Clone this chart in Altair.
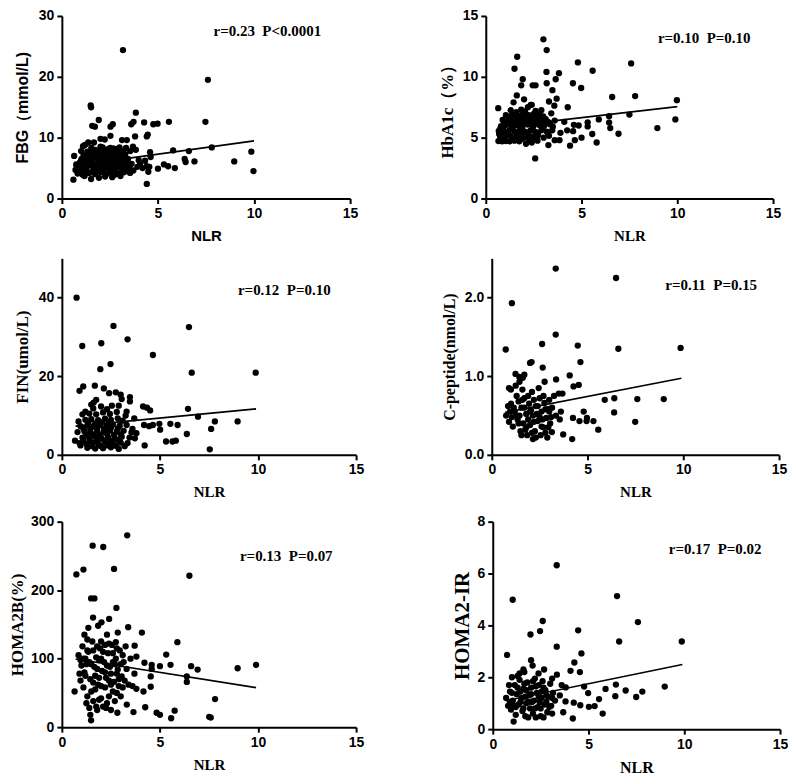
import altair as alt
import pandas as pd

X_TICKS = [0, 5, 10, 15]

# ---- FBG (mmol/L) vs NLR ----
FBG_POINTS = [
    (3.18, 24.4), (7.6, 19.5), (1.5, 15.3), (1.52, 15.0), (7.47, 12.6), (3.85, 14.1), (1.92, 12.9),
    (1.58, 11.95), (1.72, 11.8), (2.53, 11.8), (2.65, 12.2), (3.61, 12.2), (3.73, 12.6), (4.28, 12.5),
    (4.76, 12.2), (4.98, 12.3), (5.57, 12.6), (2.53, 10.3), (2.01, 9.8), (2.23, 9.7), (3.13, 9.6),
    (3.38, 9.6), (3.81, 10.2), (4.47, 10.5), (4.42, 10.2), (1.37, 9.2), (1.67, 9.2), (2.01, 8.5),
    (2.52, 8.3), (2.87, 8.1), (3.56, 7.8), (1.1, 8.6), (0.64, 7.0), (4.59, 7.6), (4.62, 6.8),
    (5.79, 7.9), (6.61, 7.8), (7.8, 8.4), (6.39, 6.5), (6.44, 6.0), (6.9, 6.1), (8.97, 6.1),
    (9.86, 7.7), (9.97, 4.5), (4.42, 2.4), (0.6, 3.1), (4.42, 5.3), (5.0, 4.9), (5.31, 5.6),
    (5.53, 5.3), (5.88, 5.0), (4.07, 5.7), (4.33, 6.2), (4.5, 4.4), (3.7, 8.5), (3.85, 8.0),
    (1.2, 8.8), (1.0, 7.8), (2.65, 8.2), (4.2, 5.0), (4.0, 6.3), (4.55, 5.2),
    (1.52, 3.2), (1.93, 3.4), (2.62, 3.5), (1.18, 3.7), (3.05, 3.7), (2.25, 3.6),
    (0.82, 4.1), (1.08, 3.9), (1.41, 4.2), (1.74, 4.0), (2.03, 4.3), (2.31, 4.0), (2.58, 4.2),
    (2.93, 4.1), (3.22, 4.3), (3.55, 4.2),
    (0.71, 4.7), (0.98, 4.6), (1.27, 4.8), (1.63, 4.6), (1.88, 4.9), (2.17, 4.7), (2.49, 4.6),
    (2.79, 4.8), (3.12, 4.7), (3.41, 4.9), (3.72, 4.6),
    (0.84, 5.3), (1.12, 5.1), (1.38, 5.4), (1.69, 5.2), (2.01, 5.3), (2.28, 5.1), (2.63, 5.4),
    (2.88, 5.2), (3.19, 5.3), (3.52, 5.1), (3.93, 5.2),
    (0.93, 5.9), (1.21, 5.7), (1.54, 6.0), (1.79, 5.8), (2.12, 5.9), (2.43, 5.7), (2.71, 6.0),
    (3.02, 5.8), (3.31, 5.9), (3.63, 5.7),
    (1.03, 6.5), (1.33, 6.3), (1.61, 6.6), (1.94, 6.4), (2.21, 6.5), (2.52, 6.3), (2.84, 6.6),
    (3.13, 6.4), (3.44, 6.5),
    (1.13, 7.1), (1.43, 6.9), (1.72, 7.2), (2.04, 7.0), (2.33, 7.1), (2.61, 6.9), (2.94, 7.2),
    (3.24, 7.0),
    (1.32, 7.7), (1.64, 7.5), (1.91, 7.8), (2.24, 7.6), (2.54, 7.7), (2.83, 7.5), (3.11, 7.8),
    (1.53, 8.3), (2.12, 8.4), (2.72, 8.2), (3.34, 8.3),
    (0.75, 5.6), (1.0, 6.2), (1.25, 4.4), (1.5, 5.6), (1.8, 4.4), (2.1, 6.2), (2.4, 5.4),
    (2.65, 4.5), (2.95, 5.6), (3.25, 4.9), (3.5, 5.6), (1.15, 6.8), (1.45, 7.3), (1.8, 6.8),
    (2.1, 7.4), (2.4, 6.8), (2.7, 7.3), (3.0, 6.8), (3.3, 7.3), (1.3, 5.9), (1.6, 5.4),
    (1.95, 5.6), (2.25, 6.2), (2.55, 5.0), (2.85, 6.2), (3.15, 6.1), (0.9, 4.4), (1.55, 4.3),
    (2.15, 4.4), (2.75, 3.9), (3.35, 4.5), (1.75, 8.0), (2.4, 8.1), (3.0, 8.4),
]
FBG_FIT_X = [0.6, 10.0]
FBG_FIT_Y = [5.36, 9.47]

# ---- HbA1c (%) vs NLR ----
HBA1C_POINTS = [
    (3.01, 13.08), (3.18, 12.2), (1.64, 11.65), (1.5, 10.66), (4.81, 11.18), (5.58, 10.5), (7.59, 11.1),
    (3.17, 10.4), (3.82, 10.3), (3.65, 9.8), (1.93, 9.8), (3.18, 9.47), (4.55, 9.47), (4.98, 9.08),
    (2.45, 9.3), (2.6, 9.3), (1.85, 9.3), (3.48, 8.9), (1.62, 8.47), (2.0, 8.15), (3.7, 8.2),
    (6.6, 8.34), (7.8, 8.42), (9.98, 8.08), (3.3, 7.97), (3.58, 7.63), (4.28, 7.5), (7.5, 6.9),
    (6.44, 6.24), (6.44, 6.76), (5.9, 6.5), (5.32, 6.26), (5.32, 5.92), (5.56, 5.3), (6.5, 5.79),
    (6.93, 5.32), (8.96, 5.79), (9.9, 6.5), (5.79, 4.6), (5.0, 5.0), (4.4, 4.34), (4.65, 4.79),
    (4.56, 5.53), (4.6, 6.05), (3.27, 4.39), (2.58, 3.29), (3.6, 4.79), (3.85, 4.79), (0.65, 7.42),
    (1.45, 7.9), (2.35, 7.7), (3.42, 7.0), (4.1, 6.3), (4.25, 5.6), (4.85, 6.0), (3.9, 5.4),
    (0.66, 4.72), (0.85, 4.7), (1.05, 4.72), (1.25, 4.7), (1.5, 4.75), (1.75, 4.7), (2.1, 4.5),
    (2.4, 4.6), (2.7, 4.75),
    (0.75, 5.1), (1.02, 5.0), (1.3, 5.15), (1.58, 5.05), (1.86, 5.2), (2.15, 5.0), (2.44, 5.1),
    (2.73, 5.2), (3.02, 5.0), (3.3, 5.15),
    (0.68, 5.55), (0.95, 5.45), (1.22, 5.6), (1.5, 5.5), (1.78, 5.62), (2.06, 5.48), (2.33, 5.58),
    (2.62, 5.45), (2.9, 5.6), (3.18, 5.5), (3.47, 5.6),
    (0.8, 5.95), (1.08, 6.05), (1.35, 5.92), (1.63, 6.02), (1.92, 5.95), (2.2, 6.08), (2.48, 5.95),
    (2.77, 6.05), (3.05, 5.98), (3.35, 6.1),
    (0.88, 6.45), (1.15, 6.38), (1.43, 6.5), (1.7, 6.4), (1.98, 6.52), (2.27, 6.42), (2.55, 6.5),
    (2.84, 6.4), (3.13, 6.52),
    (1.05, 6.85), (1.38, 6.9), (1.67, 6.8), (1.95, 6.95), (2.25, 6.85), (2.52, 6.98), (2.8, 6.88),
    (1.3, 7.25), (1.85, 7.3), (2.2, 7.5), (2.4, 7.7), (2.9, 7.25),
    (0.7, 5.3), (0.9, 5.75), (1.15, 5.3), (1.4, 5.8), (1.65, 5.3), (1.9, 5.75), (2.18, 5.3),
    (2.45, 5.8), (2.7, 5.3), (2.95, 5.8), (3.25, 5.35), (1.0, 6.25), (1.28, 6.2), (1.55, 6.25),
    (1.85, 6.2), (2.1, 6.3), (2.4, 6.25), (2.65, 6.25), (2.95, 6.2), (3.25, 6.3), (1.2, 6.7),
    (1.5, 6.65), (1.8, 6.7), (2.1, 6.7), (2.4, 6.7), (2.7, 6.65), (3.0, 6.75), (0.95, 4.9),
    (1.4, 4.9), (1.9, 4.9), (2.3, 4.85), (2.6, 4.95), (3.5, 5.9), (3.6, 6.4), (1.6, 7.1),
    (2.05, 7.15), (2.6, 7.2),
]
HBA1C_FIT_X = [0.6, 10.0]
HBA1C_FIT_Y = [5.85, 7.55]

# ---- FIN (umol/L) vs NLR ----
FIN_POINTS = [
    (0.75, 40.0), (1.04, 27.7), (2.63, 32.8), (3.35, 29.4), (2.01, 28.4), (1.96, 21.8), (2.48, 23.1),
    (4.64, 25.4), (6.48, 32.5), (6.62, 20.9), (9.88, 20.9), (0.9, 16.3), (1.09, 17.4), (1.68, 17.6),
    (2.14, 16.9), (2.41, 15.7), (2.75, 15.9), (3.0, 15.3), (3.05, 14.2), (3.47, 14.7), (3.47, 13.6),
    (4.14, 12.3), (4.34, 12.0), (4.5, 11.3), (6.43, 11.7), (6.94, 9.7), (7.8, 8.5), (8.96, 8.5),
    (7.61, 6.6), (6.37, 5.3), (7.54, 1.4), (5.31, 3.4), (5.64, 3.4), (5.81, 3.6), (5.53, 7.9),
    (5.9, 7.6), (5.01, 6.4), (4.97, 7.9), (4.64, 7.6), (4.19, 7.6), (4.22, 2.4), (3.72, 4.2),
    (3.69, 9.3), (0.67, 3.6), (0.95, 2.4), (4.45, 7.3), (3.8, 5.5), (3.6, 6.6), (2.9, 12.5),
    (2.55, 12.5), (1.75, 14.0), (1.62, 13.3), (1.5, 12.8), (1.2, 11.0), (1.05, 10.3), (0.85, 8.5),
    (3.3, 11.0), (3.25, 10.0),
    (1.3, 1.8), (1.7, 1.6), (2.1, 1.7), (2.5, 1.9), (2.9, 1.5), (3.2, 2.2),
    (0.9, 3.0), (1.25, 2.8), (1.55, 3.1), (1.85, 2.9), (2.2, 3.2), (2.6, 2.8), (3.0, 3.1), (3.35, 3.0),
    (1.05, 4.4), (1.4, 4.2), (1.7, 4.6), (2.0, 4.3), (2.35, 4.5), (2.7, 4.2), (3.05, 4.6), (3.45, 4.4),
    (0.8, 5.8), (1.15, 6.0), (1.45, 5.7), (1.8, 6.1), (2.12, 5.8), (2.45, 6.2), (2.8, 5.9), (3.15, 6.1),
    (3.55, 5.7),
    (0.95, 7.3), (1.3, 7.5), (1.62, 7.2), (1.95, 7.6), (2.28, 7.3), (2.6, 7.7), (2.95, 7.4), (3.3, 7.6),
    (1.2, 8.9), (1.5, 9.1), (1.85, 8.8), (2.2, 9.2), (2.5, 8.9), (2.85, 9.3), (3.1, 8.7),
    (1.4, 10.5), (1.75, 10.3), (2.1, 10.8), (2.45, 10.4), (2.8, 10.9),
    (1.1, 3.6), (1.45, 3.5), (1.8, 3.8), (2.15, 3.7), (2.5, 3.6), (2.85, 3.8), (1.25, 5.1),
    (1.6, 5.2), (1.95, 5.0), (2.3, 5.3), (2.65, 5.1), (3.0, 5.2), (1.1, 6.7), (1.45, 6.6),
    (1.8, 6.8), (2.15, 6.6), (2.5, 6.8), (2.85, 6.7), (1.35, 8.2), (1.7, 8.0), (2.05, 8.3),
    (2.4, 8.1), (1.55, 2.2), (1.95, 2.3), (2.35, 2.4), (2.75, 2.3), (1.6, 11.8), (2.0, 12.3),
    (2.3, 11.6),
]
FIN_FIT_X = [0.7, 9.9]
FIN_FIT_Y = [7.3, 11.7]

# ---- C-peptide (nmol/L) vs NLR ----
CPEP_POINTS = [
    (3.34, 2.37), (6.49, 2.25), (1.05, 1.93), (3.34, 1.53), (0.73, 1.34), (2.63, 1.41), (4.49, 1.39),
    (6.61, 1.35), (9.86, 1.36), (4.63, 1.18), (2.08, 1.18), (2.0, 1.17), (2.66, 1.11), (4.07, 1.01),
    (3.36, 0.96), (4.54, 0.89), (4.27, 0.87), (2.76, 0.93), (1.24, 1.03), (1.44, 0.99), (3.69, 0.78),
    (5.9, 0.70), (6.4, 0.72), (7.6, 0.71), (8.98, 0.71), (6.39, 0.54), (4.8, 0.55), (7.49, 0.42),
    (5.56, 0.32), (5.31, 0.43), (4.97, 0.47), (4.58, 0.43), (4.24, 0.47), (4.2, 0.2), (3.73, 0.26),
    (2.15, 0.2), (3.14, 0.29), (3.61, 0.55), (1.7, 1.02), (1.62, 0.98), (0.9, 0.85), (1.0, 0.83),
    (1.45, 0.93), (3.5, 0.78), (3.55, 0.45), (3.0, 0.55), (4.95, 0.43),
    (0.75, 0.5), (0.9, 0.42), (1.0, 0.65), (1.1, 0.36), (1.2, 0.55), (1.3, 0.75), (1.35, 0.45),
    (1.5, 0.3), (1.55, 0.6), (1.65, 0.4), (1.7, 0.72), (1.8, 0.52), (1.85, 0.25), (1.95, 0.65),
    (2.0, 0.38), (2.1, 0.8), (2.15, 0.5), (2.25, 0.3), (2.3, 0.62), (2.4, 0.43), (2.5, 0.72),
    (2.55, 0.25), (2.6, 0.55), (2.7, 0.35), (2.75, 0.66), (2.85, 0.47), (2.9, 0.22), (3.0, 0.7),
    (3.05, 0.4), (3.15, 0.6), (3.25, 0.75), (1.25, 0.88), (1.4, 0.68), (1.6, 0.83), (1.9, 0.45),
    (2.05, 0.57), (2.35, 0.52), (2.45, 0.85), (2.65, 0.45), (2.95, 0.58), (1.45, 0.5), (1.75, 0.32),
    (2.2, 0.7), (2.8, 0.28), (1.05, 0.48), (0.85, 0.62), (3.35, 0.5),
    (1.15, 0.6), (1.4, 0.4), (1.6, 0.7), (1.8, 0.35), (2.0, 0.55), (2.2, 0.42), (2.4, 0.62),
    (2.6, 0.36), (2.8, 0.58), (3.1, 0.48), (1.3, 0.5), (1.55, 0.25), (1.9, 0.75), (2.3, 0.22),
    (2.5, 0.48), (2.7, 0.75), (0.95, 0.55), (1.7, 0.6), (2.1, 0.28), (2.95, 0.35),
]
CPEP_FIT_X = [0.7, 9.9]
CPEP_FIT_Y = [0.54, 0.975]

# ---- HOMA2B (%) vs NLR ----
HOMA2B_POINTS = [
    (3.33, 280), (1.57, 265), (2.11, 263), (0.74, 223), (1.1, 230), (2.66, 231), (6.5, 221),
    (1.49, 188), (1.66, 188), (2.78, 174), (1.59, 160), (2.41, 158), (2.02, 153), (3.38, 146),
    (4.08, 138), (5.89, 124), (5.32, 106), (3.71, 119), (5.54, 91), (6.59, 89), (6.92, 84),
    (8.96, 86), (9.9, 91), (6.37, 74), (6.37, 66), (7.81, 41), (7.51, 15), (7.59, 14), (5.75, 24),
    (5.57, 13), (5.0, 18), (4.83, 21), (4.25, 29), (4.53, 59), (4.16, 52), (4.53, 74), (5.0, 89),
    (4.58, 91), (4.58, 85), (4.21, 94), (0.65, 52), (1.49, 10), (3.31, 33), (3.65, 22), (2.83, 21),
    (3.4, 62), (3.6, 60), (3.8, 56), (3.7, 78), (3.5, 100), (3.8, 103), (1.35, 145), (1.15, 135),
    (1.85, 148), (2.3, 135), (2.75, 124), (2.85, 138),
    (0.85, 105), (0.95, 98), (1.05, 118), (1.15, 80), (1.25, 92), (1.35, 110), (1.45, 70),
    (1.55, 125), (1.65, 88), (1.75, 102), (1.85, 62), (1.95, 115), (2.05, 82), (2.15, 95),
    (2.25, 72), (2.35, 108), (2.45, 88), (2.55, 120), (2.65, 66), (2.75, 100), (2.85, 84),
    (2.95, 112), (3.05, 74), (3.15, 95), (3.25, 118), (0.9, 78), (1.1, 58), (1.3, 45), (1.4, 28),
    (1.6, 38), (1.7, 55), (1.8, 25), (1.9, 72), (2.0, 42), (2.1, 30), (2.2, 58), (2.4, 45),
    (2.5, 25), (2.6, 52), (2.7, 38), (2.9, 60), (3.0, 45), (1.2, 100), (1.5, 92), (1.7, 75),
    (1.9, 98), (2.1, 110), (2.3, 90), (2.5, 78), (2.7, 92), (2.9, 70), (3.1, 105), (3.3, 85),
    (1.0, 90), (1.3, 128), (1.6, 112), (2.0, 125), (2.4, 122), (2.8, 115), (3.2, 68), (1.45, 18),
    (1.75, 30), (2.25, 28), (0.95, 68),
    (1.2, 75), (1.4, 95), (1.6, 65), (1.8, 85), (2.0, 100), (2.2, 80), (2.4, 68), (2.6, 95),
    (2.8, 78), (3.0, 92), (1.3, 112), (1.8, 118), (2.2, 120), (2.6, 108), (1.1, 100), (1.5, 52),
    (2.0, 60), (2.5, 62), (2.8, 50), (1.25, 35), (1.9, 40), (2.3, 35), (3.1, 58),
]
HOMA2B_FIT_X = [0.7, 9.9]
HOMA2B_FIT_Y = [99.4, 57.7]

# ---- HOMA2-IR vs NLR ----
HOMA2IR_POINTS = [
    (3.34, 6.32), (6.49, 5.13), (1.04, 4.99), (2.61, 4.17), (7.58, 4.13), (2.47, 3.78), (4.46, 3.81),
    (1.97, 3.65), (6.6, 3.38), (9.87, 3.38), (3.34, 3.18), (0.75, 2.86), (4.63, 2.92), (4.26, 2.57),
    (4.06, 2.25), (4.55, 2.2), (2.0, 2.66), (2.08, 2.45), (2.68, 2.3), (2.39, 2.15), (4.77, 1.64),
    (4.98, 1.39), (5.89, 1.55), (6.43, 1.72), (6.4, 1.27), (6.94, 1.49), (7.81, 1.45), (7.49, 1.24),
    (8.98, 1.64), (5.55, 1.16), (5.32, 0.89), (5.02, 0.86), (4.57, 0.92), (4.23, 1.02), (5.74, 0.6),
    (4.18, 0.41), (3.68, 0.65), (3.8, 1.07), (1.09, 0.29), (3.81, 1.61), (3.35, 2.1), (3.1, 1.95),
    (3.5, 1.3), (3.6, 1.7), (1.6, 2.3), (1.4, 2.15),
    (0.7, 1.2), (0.8, 0.9), (0.9, 1.45), (0.95, 0.75), (1.05, 1.1), (1.15, 1.7), (1.2, 0.55),
    (1.25, 1.35), (1.35, 0.95), (1.4, 1.9), (1.5, 1.2), (1.55, 0.7), (1.6, 1.55), (1.7, 0.5),
    (1.75, 1.0), (1.8, 1.8), (1.9, 1.3), (1.95, 0.8), (2.0, 1.6), (2.1, 0.6), (2.15, 1.1),
    (2.2, 1.95), (2.3, 1.4), (2.35, 0.85), (2.4, 1.7), (2.5, 0.5), (2.55, 1.2), (2.6, 1.85),
    (2.7, 0.95), (2.75, 1.5), (2.85, 0.65), (2.9, 1.25), (3.0, 1.75), (3.05, 0.9), (3.15, 1.4),
    (3.25, 1.1), (1.0, 2.0), (1.3, 2.05), (1.65, 2.2), (1.85, 0.45), (2.25, 0.45), (2.65, 0.45),
    (3.1, 0.6), (0.85, 1.7), (1.1, 0.9), (1.45, 1.45), (2.05, 1.05), (2.45, 1.05), (2.8, 1.05),
    (1.7, 1.25),
    (1.0, 1.4), (1.2, 0.85), (1.3, 1.6), (1.45, 1.05), (1.6, 0.8), (1.65, 1.75), (1.85, 1.05),
    (2.0, 1.35), (2.2, 0.8), (2.25, 1.65), (2.4, 1.25), (2.5, 0.8), (2.65, 1.6), (2.8, 1.3),
    (2.95, 0.85), (3.1, 1.2), (0.9, 1.05), (1.75, 1.5), (2.1, 1.85), (2.55, 1.45),
]
HOMA2IR_FIT_X = [0.7, 9.9]
HOMA2IR_FIT_Y = [1.1, 2.49]

SANS = "Liberation Sans"
SERIF = "Liberation Serif"

AXIS_STYLE = dict(
    grid=False, domainColor="black", domainWidth=2, tickColor="black", tickWidth=2,
    labelFont=SANS, labelFontWeight="bold", labelFontSize=14, labelColor="black",
    labelPadding=3, titleFontWeight="bold",
)


def panel(points, fit_x, fit_y, y_domain, y_ticks, y_title, title_font, y_title_size,
          label, w, h, ann_x, ann_y, y_title_pad, y_fmt=None, x_title_size=15):
    df = pd.DataFrame(points, columns=["NLR", "v"])
    fit = pd.DataFrame({"NLR": fit_x, "v": fit_y})
    yaxis_kw = dict(values=y_ticks, title=y_title, titleFont=title_font,
                    titleFontSize=y_title_size, titlePadding=y_title_pad, **AXIS_STYLE)
    if y_fmt:
        yaxis_kw["format"] = y_fmt
    x_enc = alt.X("NLR:Q", scale=alt.Scale(domain=[0, 15], nice=False),
                  axis=alt.Axis(values=X_TICKS, title="NLR", titleFont=title_font,
                                titleFontSize=x_title_size, titlePadding=8, labelFlush=False,
                                **AXIS_STYLE))
    y_enc = alt.Y("v:Q", scale=alt.Scale(domain=y_domain, nice=False), axis=alt.Axis(**yaxis_kw))
    pts = alt.Chart(df).mark_circle(size=40, color="black", opacity=1).encode(x=x_enc, y=y_enc)
    line = alt.Chart(fit).mark_line(color="black", strokeWidth=1.6).encode(x="NLR:Q", y="v:Q")
    txt = alt.Chart(pd.DataFrame({"t": [label]})).mark_text(
        font=SERIF, fontWeight="bold", fontSize=15, color="black", align="center", baseline="middle"
    ).encode(text="t:N", x=alt.value(ann_x), y=alt.value(ann_y))
    return alt.layer(pts, line, txt).properties(width=w, height=h)


p1 = panel(FBG_POINTS, FBG_FIT_X, FBG_FIT_Y, [0, 30], [0, 10, 20, 30], "FBG（mmol/L)", SANS, 16,
           "r=0.23\u00a0 P<0.0001", 289, 183, 206, 15, 8)
p2 = panel(HBA1C_POINTS, HBA1C_FIT_X, HBA1C_FIT_Y, [0, 15], [0, 5, 10, 15], "HbA1c（%）", SERIF, 17,
           "r=0.10\u00a0 P=0.10", 288, 183, 219, 22, 6)
p3 = panel(FIN_POINTS, FIN_FIT_X, FIN_FIT_Y, [0, 50], [0, 10, 20, 30, 40, 50], "FIN(umol/L)", SERIF, 17,
           "r=0.12\u00a0 P=0.10", 295, 197, 223, 32, 7)
p4 = panel(CPEP_POINTS, CPEP_FIT_X, CPEP_FIT_Y, [0, 2.5], [0, 0.5, 1.0, 1.5, 2.0, 2.5], "C-peptide(nmol/L)",
           SERIF, 16, "r=0.11\u00a0 P=0.15", 288, 197, 220, 27, 7, y_fmt=".1f")
p5 = panel(HOMA2B_POINTS, HOMA2B_FIT_X, HOMA2B_FIT_Y, [0, 300], [0, 100, 200, 300], "HOMA2B(%)", SERIF, 17,
           "r=0.13\u00a0 P=0.07", 295, 206, 225, 34, 4)
p6 = panel(HOMA2IR_POINTS, HOMA2IR_FIT_X, HOMA2IR_FIT_Y, [0, 8], [0, 2, 4, 6, 8], "HOMA2-IR", SERIF, 21,
           "r=0.17\u00a0 P=0.02", 288, 208, 223, 27, 5, x_title_size=16)

row1 = alt.hconcat(p1, p2, spacing=80)
row2 = alt.hconcat(p3, p4, spacing=77)
row3 = alt.hconcat(p5, p6, spacing=87)

chart = alt.vconcat(
    alt.vconcat(row1, row2, spacing=15),
    row3,
    spacing=15,
).properties(
    padding={"left": 0, "top": 0, "right": 0, "bottom": 0}
).configure_view(
    strokeWidth=0
)

chart.save("out.html", embed_options={"renderer": "svg", "actions": False})
